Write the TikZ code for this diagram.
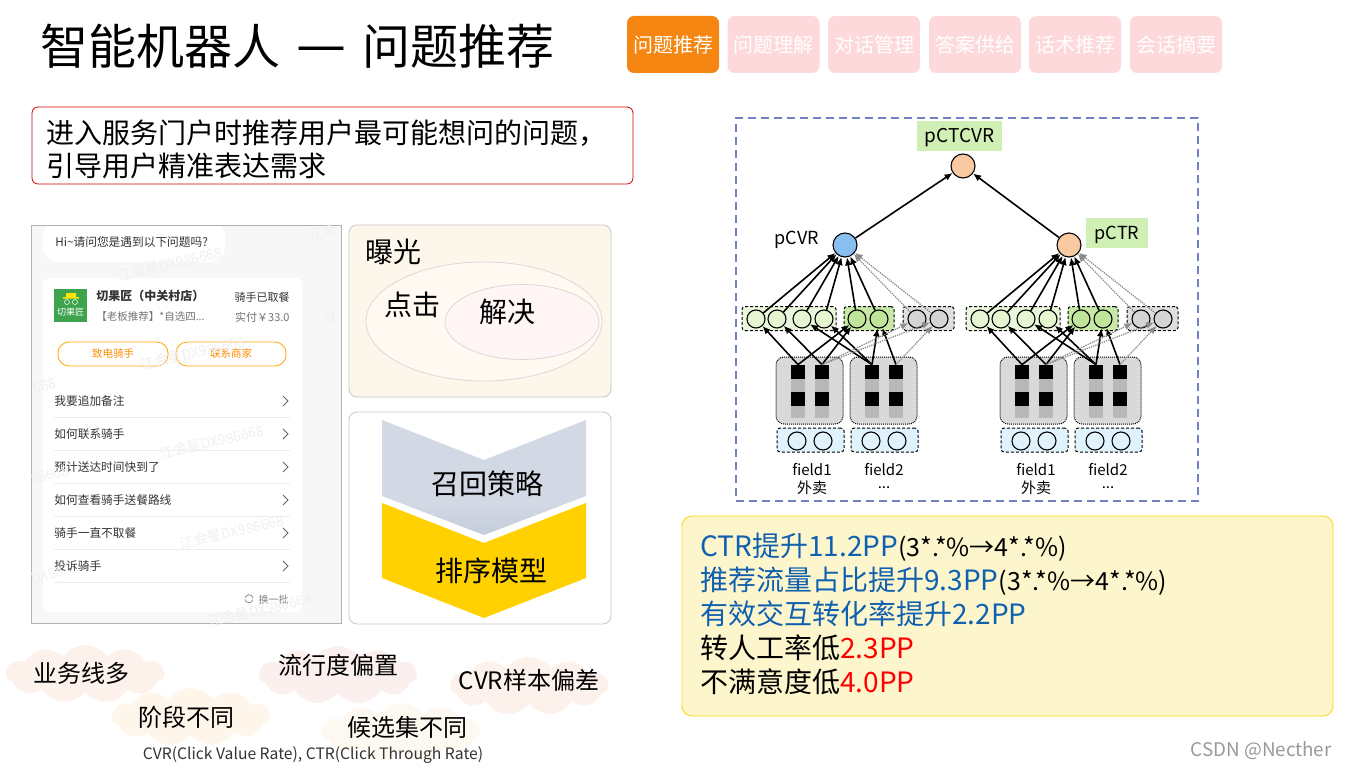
\documentclass[tikz,border=0pt]{standalone}
\usepackage{fontspec}
\setmainfont{Noto Sans CJK SC}
\usetikzlibrary{arrows.meta,shapes.symbols,shapes.geometric}
\definecolor{tabpink}{HTML}{FDD9DC}
\definecolor{taborange}{HTML}{F58612}
\definecolor{panelcream}{HTML}{FDF6EA}
\definecolor{linkblue}{HTML}{1060B0}
\definecolor{wrapblue}{HTML}{7082C2}
\definecolor{lightgreen}{HTML}{CFEFB4}
\definecolor{resultyellow}{HTML}{FDF6CC}
\definecolor{chevgrey}{HTML}{D2D8E4}
\definecolor{chevdark}{HTML}{A8B4C8}
\definecolor{chevgold}{HTML}{FFD100}
\definecolor{cvrblue}{HTML}{88BEF0}
\definecolor{ctrorange}{HTML}{F9C9A2}
\definecolor{logogreen}{HTML}{3DA44D}
\definecolor{cloudone}{HTML}{FDF1EB}
\definecolor{cloudtwo}{HTML}{FCF0EE}
\definecolor{cloudthree}{HTML}{FEF6EB}
\definecolor{cloudfour}{HTML}{FEF9F0}
\definecolor{greenbox}{HTML}{EBF7DC}
\definecolor{greendot}{HTML}{E6F5D2}
\definecolor{midbox}{HTML}{C8E9A6}
\definecolor{middot}{HTML}{BFE59A}
\definecolor{bluebox}{HTML}{E0F2FC}
\pgfdeclareverticalshading{chevshade}{100bp}{color(0bp)=(chevdark); color(38bp)=(chevgrey); color(100bp)=(chevgrey)}
\begin{document}
\begin{tikzpicture}[x=1pt,y=-1pt,line width=0.8pt,
  tabbox/.style={rounded corners=7pt,minimum width=92pt,minimum height=57pt,inner sep=0pt,
              text=white,font=\fontsize{20}{24}\selectfont},
  big/.style={inner sep=0pt,font=\fontsize{28}{33}\selectfont},
  mid/.style={inner sep=0pt,font=\fontsize{24}{28}\selectfont},
  app/.style={inner sep=0pt,font=\fontsize{11.7}{14}\selectfont,text=black!80},
  btn/.style={draw=orange!70!yellow,rounded corners=11pt,minimum width=110pt,minimum height=24pt,inner sep=0pt,
              text=orange!90!yellow,font=\fontsize{10.5}{12}\selectfont},
  wmark/.style={inner sep=0pt,rotate=13,text=black!6,font=\fontsize{14}{16}\selectfont},
  puff/.style={cloud,cloud puffs=11,cloud puff arc=110,aspect=2.7,inner sep=0pt,
               minimum width=158pt,minimum height=58pt},
  pan/.style={draw=black!22,rounded corners=8pt,minimum width=262pt,inner sep=0pt},
  fld/.style={draw,densely dashed,line width=1pt,rounded corners=3pt,inner sep=0pt,minimum height=24pt},
  nrn/.style={circle,draw,line width=1.1pt,inner sep=0pt,minimum size=18pt},
  topn/.style={circle,draw,line width=1.1pt,inner sep=0pt,minimum size=24pt},
  emb/.style={draw,densely dotted,line width=1pt,fill=black!15,rounded corners=8pt,inner sep=0pt,
              minimum width=67pt,minimum height=67pt},
  stp/.style={fill=black!28,inner sep=0pt,minimum width=14pt,minimum height=53pt},
  blk/.style={fill=black,inner sep=0pt,minimum size=14pt},
  lbl/.style={inner sep=0pt,font=\fontsize{15}{18}\selectfont},
  prob/.style={inner sep=0pt,font=\fontsize{18}{22}\selectfont},
  arr/.style={-{Latex[length=8pt,width=7pt]},line width=1.6pt},
  dotarr/.style={-{Latex[length=8pt,width=7pt]},densely dotted,draw=black!45,line width=1.3pt}]
  \useasboundingbox (0,0) rectangle (1347,768);

  \node[inner sep=0pt,anchor=west,font=\fontsize{48}{56}\selectfont] (title) at (40,46)
    {智能机器人\hspace{16pt}{\fontsize{56}{56}\selectfont —}\hspace{16pt}问题推荐};
  \node[tabbox,fill=taborange] (t1) at (673,44.5) {问题推荐};
  \node[tabbox,fill=tabpink] (t2) at (773.5,44.5) {问题理解};
  \node[tabbox,fill=tabpink] (t3) at (874,44.5) {对话管理};
  \node[tabbox,fill=tabpink] (t4) at (975,44.5) {答案供给};
  \node[tabbox,fill=tabpink] (t5) at (1075,44.5) {话术推荐};
  \node[tabbox,fill=tabpink] (t6) at (1176,44.5) {会话摘要};

  \node[draw=red!80!black,rounded corners=6pt,minimum width=601pt,minimum height=77pt] (intro) at (332.5,145.5) {};
  \node[big,anchor=west,align=left] (introtxt) at (46,149)
    {进入服务门户时推荐用户最可能想问的问题，\\引导用户精准表达需求};

  % app screenshot
  \node[draw=black!30,fill=black!3,inner sep=0pt,minimum width=310pt,minimum height=398pt] (phone) at (186,424) {};
  \fill[white,rounded corners=14pt] (43,222) rectangle (225,262);
  \draw[black!30] (31,225) -- (341,225);
  \node[fill=white,rounded corners=6pt,inner sep=0pt,minimum width=259pt,minimum height=334pt] (card) at (172.5,445) {};
  \node[app,anchor=west,font=\fontsize{11.7}{14}\selectfont] (hi) at (55,242) {Hi\textasciitilde 请问您是遇到以下问题吗?};
  \node[fill=logogreen,inner sep=0pt,minimum size=33pt] (logo) at (70.5,305.5) {};
  \fill[yellow!90!orange] (66,293) rectangle (76,297) (63,297) rectangle (79,298.5);
  \draw[white,line width=0.5pt] (67,302) circle (2.5pt) (75,302) circle (2.5pt);
  \node[inner sep=0pt,text=white,font=\fontsize{9}{11}\selectfont] (logotxt) at (70.5,312.5) {切果匠};
  \node[app,anchor=west,font=\bfseries\fontsize{12}{14}\selectfont] (shop) at (96,296) {切果匠（中关村店）};
  \node[app,anchor=west,text=black!55,font=\fontsize{10.5}{13}\selectfont] (dish) at (96,317) {【老板推荐】*自选四...};
  \node[app,anchor=east,font=\fontsize{11}{13}\selectfont] (state) at (290,297) {骑手已取餐};
  \node[app,anchor=east,text=black!55,font=\fontsize{11}{13}\selectfont] (paid) at (290,317) {实付￥33.0};
  \node[btn] (call) at (113,354) {致电骑手};
  \node[btn] (shopcall) at (231,354) {联系商家};
  \foreach \y/\txt [count=\i] in {401/我要追加备注,434/如何联系骑手,467/预计送达时间快到了,500/如何查看骑手送餐路线,533/骑手一直不取餐,566/投诉骑手} {
    \node[app,anchor=west] (q\i) at (54,\y) {\txt};
    \draw[black!60] (283,\y-5) -- (288,\y) -- (283,\y+5);
    \draw[black!7] (54,\y+16) -- (290,\y+16);
  }
  \draw[black!45] (253,598) arc (10:170:4pt);
  \draw[black!45] (245,599.5) arc (190:350:4pt);
  \node[app,anchor=east,text=black!50,font=\fontsize{10}{12}\selectfont] (more) at (289,600) {换一批};
  \node[wmark] (m1) at (170,264) {江会星DX986668};
  \node[wmark] (m2) at (193,353) {江会星DX986668};
  \node[wmark] (m3) at (212,442) {江会星DX986668};
  \node[wmark] (m4) at (232,532) {江会星DX986668};
  \node[wmark] (m5) at (260,610) {江会星DX986668};
  \node[wmark] (m6) at (45,386) {668};
  \node[wmark] (m7) at (50,475) {86668};
  \node[wmark] (m8) at (47,575) {DX98};
  \node[wmark] (m9) at (323,232) {江会};
  \node[wmark] (m10) at (332,318) {江};

  % funnel
  \node[pan,fill=panelcream,minimum height=172pt] (expo) at (480,311) {};
  \node[draw=black!15,fill=orange!5,ellipse,inner sep=0pt,minimum width=236pt,minimum height=119pt] (click) at (484,321.5) {};
  \node[draw=black!15,fill=red!4,ellipse,inner sep=0pt,minimum width=154pt,minimum height=75pt] (solve) at (522,322) {};
  \node[big] (expotxt) at (393,252) {曝光};
  \node[big] (clicktxt) at (412,305) {点击};
  \node[big] (solvetxt) at (507,312) {解决};

  % recall and rank
  \node[pan,fill=white,minimum height=212pt] (stack) at (480,518) {};
  \shade[shading=chevshade]
    (382,420) -- (484,460) -- (586,420) -- (586,496) -- (484,535) -- (382,496) -- cycle;
  \fill[chevgold] (382,503) -- (484,543) -- (586,503) -- (586,578) -- (484,618) -- (382,578) -- cycle;
  \node[big] (recall) at (487,484) {召回策略};
  \node[big] (rank) at (491,571) {排序模型};

  % problems
  \node[puff,fill=cloudone] (c1) at (85,674) {};
  \node[puff,fill=cloudtwo] (c2) at (338,675) {};
  \node[puff,fill=cloudone] (c3) at (529,686) {};
  \node[puff,fill=cloudthree] (c4) at (191,717) {};
  \node[puff,fill=cloudfour] (c5) at (401,732) {};
  \node[mid] (p1) at (82,673) {业务线多};
  \node[mid] (p2) at (338,665) {流行度偏置};
  \node[mid] (p3) at (529,680) {CVR样本偏差};
  \node[mid] (p4) at (186,717) {阶段不同};
  \node[mid] (p5) at (407,727) {候选集不同};
  \node[lbl,text=black!80,font=\fontsize{15.7}{18}\selectfont] (note) at (313,755.5) {CVR(Click Value Rate), CTR(Click Through Rate)};

  % model
  \node[draw=wrapblue,dash pattern=on 8pt off 5pt,line width=1.7pt,inner sep=0pt,minimum width=462pt,minimum height=383pt] (esmm) at (967,309.5) {};
  \foreach \tw/\dx/\cc in {L/0/cvrblue,R/224/ctrorange} {
    \begin{scope}[xshift=\dx pt,name prefix=\tw-]
      \node[emb] (e1) at (809.5,390.5) {};
      \node[emb] (e2) at (883.5,390.5) {};
      \foreach \i/\x in {1/798,2/822,3/872,4/896} {
        \node[stp] (sp\i) at (\x,391.5) {};
        \node[blk] (s\i) at (\x,372) {};
        \node[blk] (b\i) at (\x,398.5) {};
      }
      \node[fld,fill=bluebox,minimum width=67pt] (in1) at (810.5,440) {};
      \node[fld,fill=bluebox,minimum width=67pt] (in2) at (884.5,440) {};
      \node[nrn,fill=bluebox] (i1) at (797,441) {};
      \node[nrn,fill=bluebox] (i2) at (823,441) {};
      \node[nrn,fill=bluebox] (i3) at (871,441) {};
      \node[nrn,fill=bluebox] (i4) at (897,441) {};
      \node[lbl] (f1) at (812,470) {field1};
      \node[lbl] (f2) at (884,470) {field2};
      \node[lbl] (n1) at (812,488) {外卖};
      \node[lbl] (n2) at (884,488) {...};
      \node[fld,fill=greenbox,minimum width=94pt] (g1) at (789,318.5) {};
      \node[fld,fill=midbox,minimum width=50pt] (g2) at (869,318.5) {};
      \node[fld,fill=black!13,minimum width=51pt] (g3) at (928.5,318.5) {};
      \node[nrn,fill=greendot] (c1) at (756,319) {};
      \node[nrn,fill=greendot] (c2) at (777,319) {};
      \node[nrn,fill=greendot] (c3) at (802,319) {};
      \node[nrn,fill=greendot] (c4) at (824,319) {};
      \node[nrn,fill=middot] (c5) at (857,319) {};
      \node[nrn,fill=middot] (c6) at (879,319) {};
      \node[nrn,fill=black!17] (c7) at (917,319) {};
      \node[nrn,fill=black!17] (c8) at (939,319) {};
      \node[topn,fill=\cc] (topc) at (845,245) {};
      \draw[arr] (c1) -- (topc);
      \draw[arr] (c2) -- (topc);
      \draw[arr] (c3) -- (topc);
      \draw[arr] (c4) -- (topc);
      \draw[arr] (c5) -- (topc);
      \draw[arr] (c6) -- (topc);
      \draw[dotarr] (c7) -- (topc);
      \draw[dotarr] (c8) -- (topc);
      \draw[arr] (s1.north) -- (c1);
      \draw[arr] (s1.north) -- (c5);
      \draw[arr] (s2.north) -- (c2);
      \draw[arr] (s2.north) -- (c5);
      \draw[arr] (s3.north) -- (c3);
      \draw[arr] (s3.north) -- (c4);
      \draw[arr] (s3.north) -- (c6);
      \draw[arr] (s4.north) -- (c6);
      \draw[dotarr] (s2.north) -- (c7);
      \draw[dotarr] (s2.north) -- (c8);
      \draw[dotarr] (s4.north) -- (c8);
    \end{scope}
  }
  \node[topn,fill=ctrorange] (topm) at (963,166) {};
  \draw[arr] (L-topc) -- (topm);
  \draw[arr] (R-topc) -- (topm);
  \node[fill=lightgreen,font=\fontsize{19}{22}\selectfont,inner sep=0pt,minimum width=85pt,minimum height=30pt] (pctcvr) at (959.5,136) {\raisebox{-6.5pt}[0pt][0pt]{pCTCVR}};
  \node[fill=lightgreen,font=\fontsize{18}{22}\selectfont,inner sep=0pt,minimum width=62pt,minimum height=30pt] (pctr) at (1117,233) {\raisebox{-6.5pt}[0pt][0pt]{pCTR}};
  \node[prob] (pcvr) at (797,240) {pCVR};

  % results
  \node[draw=yellow!75!orange,fill=resultyellow,rounded corners=10pt,minimum width=651pt,minimum height=200pt] (res) at (1007.5,616) {};
  \node[inner sep=0pt,anchor=west,align=left,font=\fontsize{28}{34}\selectfont] (restxt) at (700,614)
    {\textcolor{linkblue}{CTR提升11.2PP}{\fontsize{25}{34}\selectfont (3*.*\%→4*.*\%)}\\
     \textcolor{linkblue}{推荐流量占比提升9.3PP}{\fontsize{25}{34}\selectfont (3*.*\%→4*.*\%)}\\
     \textcolor{linkblue}{有效交互转化率提升2.2PP}\\
     转人工率低\textcolor{red}{2.3PP}\\
     不满意度低\textcolor{red}{4.0PP}};

  \node[inner sep=0pt,anchor=east,text=black!40,font=\fontsize{18.8}{22}\selectfont] (csdn) at (1332,751) {CSDN @Necther};
\end{tikzpicture}
\end{document}
